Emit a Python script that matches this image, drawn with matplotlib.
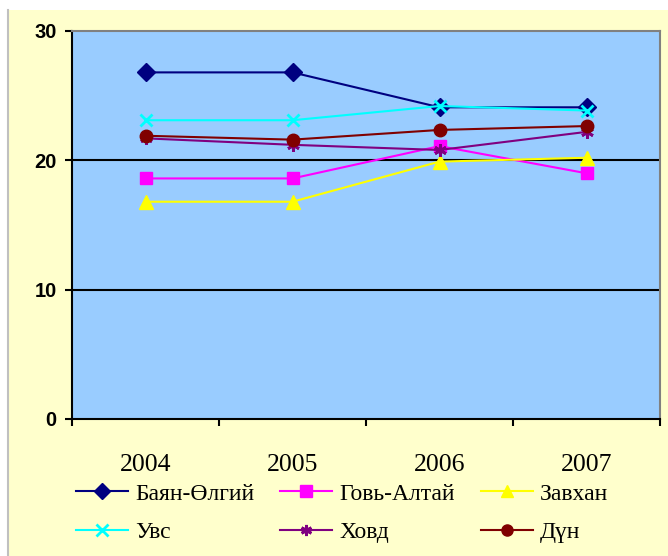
import matplotlib.pyplot as plt
from matplotlib.patches import Rectangle
from matplotlib.lines import Line2D

# Data
years = ['2004', '2005', '2006', '2007']
bayan = [26.8, 26.8, 24.1, 24.1]
govi = [18.6, 18.6, 21.1, 19.0]
zavkhan = [16.8, 16.8, 19.9, 20.2]
uvs = [23.1, 23.1, 24.2, 23.85]
khovd = [21.7, 21.2, 20.8, 22.2]
dun = [21.9, 21.6, 22.35, 22.65]

series = [
    ('Баян-Өлгий', bayan, '#000080', 'D', 9),
    ('Говь-Алтай', govi, '#FF00FF', 's', 9),
    ('Завхан', zavkhan, '#FFFF00', '^', 10),
    ('Увс', uvs, '#00FFFF', 'x', 9),
    ('Ховд', khovd, '#800080', (6, 2, 0), 9),
    ('Дүн', dun, '#800000', 'o', 9),
]

fig = plt.figure(figsize=(6.68, 5.56), dpi=100)
fig.patch.set_facecolor('white')
# chart area background with grey left border
fig.patches.append(Rectangle((8 / 668, 0), 1, 1 - 10 / 556, transform=fig.transFigure,
                             facecolor='#FFFFCC', edgecolor='none', zorder=-10))
fig.add_artist(Line2D([7.5 / 668, 7.5 / 668], [0, 1 - 10 / 556], transform=fig.transFigure,
                      color='#C0C0C0', lw=1.5, zorder=-5))

ax = fig.add_axes([72 / 668, 1 - 419 / 556, 588 / 668, 388 / 556])
ax.set_facecolor('#99CCFF')

x = list(range(len(years)))
handles = {}
for name, vals, col, mk, ms in series:
    mew = 2 if mk in ('x',) or isinstance(mk, tuple) else 1
    h, = ax.plot(x, vals, color=col, lw=1.5, marker=mk, markersize=ms,
                 markerfacecolor=col, markeredgecolor=col, markeredgewidth=mew,
                 label=name, zorder=3)
    handles[name] = h

ax.set_xlim(-0.5, 3.5)
ax.set_ylim(0, 30)
ax.set_yticks([0, 10, 20, 30])
for yv in [10, 20]:
    ax.axhline(yv, color='black', lw=1.5, zorder=2)

ax.set_xticks([-0.5, 0.5, 1.5, 2.5, 3.5])
ax.set_xticklabels([])
ax.set_xticks(x, minor=True)
ax.set_xticklabels(years, minor=True, fontfamily='Liberation Serif', fontsize=18.5)
ax.tick_params(axis='x', which='minor', length=0, pad=25)
ax.tick_params(axis='x', which='major', direction='out', length=5, width=1.5)
ax.tick_params(axis='y', direction='out', length=5, width=1.5, pad=6)
for lab in ax.get_yticklabels():
    lab.set_fontfamily('Liberation Sans')
    lab.set_fontweight('bold')
    lab.set_fontsize(14.5)

for s in ['left', 'bottom']:
    ax.spines[s].set_color('black')
    ax.spines[s].set_linewidth(1.5)
for s in ['top', 'right']:
    ax.spines[s].set_color('#808080')
    ax.spines[s].set_linewidth(1.5)

order = ['Баян-Өлгий', 'Увс', 'Говь-Алтай', 'Ховд', 'Завхан', 'Дүн']
leg_handles = []
for name in order:
    h = handles[name]
    leg_handles.append(Line2D([], [], color=h.get_color(), lw=1.5, marker=h.get_marker(),
                              markersize=8, markerfacecolor=h.get_color(),
                              markeredgecolor=h.get_color(),
                              markeredgewidth=h.get_markeredgewidth()))
fig.legend(leg_handles, order, loc='upper left', bbox_to_anchor=(76 / 668, 1 - 483 / 556),
           ncol=3, frameon=False, prop={'family': 'Liberation Serif', 'size': 17},
           handlelength=2.2, handletextpad=0.3, columnspacing=1.1, labelspacing=0.72,
           borderpad=0, borderaxespad=0)

fig.savefig('out.png', dpi=100, facecolor=fig.get_facecolor())
